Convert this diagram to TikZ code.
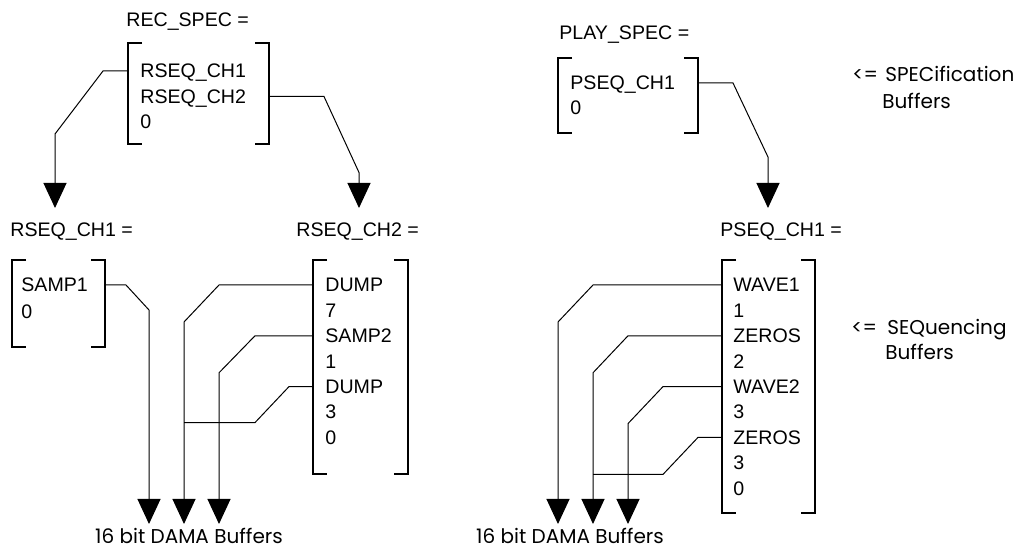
\documentclass[tikz,border=0pt]{standalone}
\usepackage{fontspec}
\setmainfont{Liberation Sans}
\newfontfamily\gothic{Poppins}
\usetikzlibrary{arrows.meta, fit}
\tikzset{
  bufname/.style={anchor=west, inner sep=0pt, font=\fontsize{9.8}{11}\selectfont,
                  text height=7pt, text depth=0pt},
  entry/.style={bufname},
  buf/.style={inner sep=0pt, outer sep=0pt},
  brline/.style={line width=1pt},
  link/.style={line width=0.5pt},
  ptr/.style={link, -{Triangle[length=12.5pt, width=11.5pt]}},
  note/.style={anchor=base west, inner sep=0pt,
               font=\gothic\fontsize{10}{13}\selectfont},
}
\newcommand{\brackets}[1]{%
  \draw[brline] ([xshift=7pt]#1.north west) -| (#1.south west) -- ++(7pt,0);
  \draw[brline] ([xshift=-7pt]#1.north east) -| (#1.south east) -- ++(-7pt,0);
}

\begin{document}
\begin{tikzpicture}[x=0.5pt, y=-0.5pt]
  \useasboundingbox (0,0) rectangle (1019,550);

  % =====================================================
  % SPECIFICATION BUFFERS
  % =====================================================

  \node[bufname] (recspec-t) at (126,20) {REC\_SPEC =};
  \node[buf, fit={(128,43) (269,144)}] (recspec) {};
  \foreach \txt [count=\i] in {RSEQ\_CH1, RSEQ\_CH2, 0}
    \node[entry] (rs-\i) at (140, {45.5+25.5*\i}) {\txt};

  \node[bufname] (playspec-t) at (559,33) {PLAY\_SPEC =};
  \node[buf, fit={(558,58) (698,133)}] (playspec) {};
  \foreach \txt [count=\i] in {PSEQ\_CH1, 0}
    \node[entry] (ps-\i) at (570, {58+25*\i}) {\txt};

  % =====================================================
  % SEQUENCING BUFFERS
  % =====================================================

  \node[bufname] (rch1-t) at (10,230) {RSEQ\_CH1 =};
  \node[buf, fit={(12,260) (105,347)}] (rch1) {};
  \foreach \txt [count=\i] in {SAMP1, 0}
    \node[entry] (ra-\i) at (21, {258+27*\i}) {\txt};

  \node[bufname] (rch2-t) at (296,230) {RSEQ\_CH2 =};
  \node[buf, fit={(313,260) (408,474)}] (rch2) {};
  \foreach \txt [count=\i] in {DUMP, 7, SAMP2, 1, DUMP, 3, 0}
    \node[entry] (rb-\i) at (325, {259.6+25.4*\i}) {\txt};

  \node[bufname] (pch1-t) at (720,230) {PSEQ\_CH1 =};
  \node[buf, fit={(722,260) (815,513)}] (pch1) {};
  \foreach \txt [count=\i] in {WAVE1, 1, ZEROS, 2, WAVE2, 3, ZEROS, 3, 0}
    \node[entry] (pb-\i) at (733, {259.6+25.4*\i}) {\txt};

  \foreach \b in {recspec, playspec, rch1, rch2, pch1}
    \brackets{\b};

  % =====================================================
  % NOTES
  % =====================================================

  \node[note] (specarr) at (852,82) {<=};
  \node[note] (specnote) at (885,82) {SPECification};
  \node[note] (specnote2) at (882,109) {Buffers};
  \node[note] (seqarr) at (851,335) {<=};
  \node[note] (seqnote) at (887,335) {SEQuencing};
  \node[note] (seqnote2) at (885,360) {Buffers};

  \node[note, anchor=base] (dama-r) at (189,544) {16 bit DAMA Buffers};
  \node[note, anchor=base] (dama-p) at (570,544) {16 bit DAMA Buffers};

  \coordinate (tip-rch1) at (55,208);
  \coordinate (tip-rch2) at (359,208);
  \coordinate (tip-pch1) at (768,208);
  \coordinate (dama-r1) at (149,524);
  \coordinate (dama-r2) at (184,524);
  \coordinate (dama-r3) at (219,524);
  \coordinate (dama-p1) at (558,524);
  \coordinate (dama-p2) at (593,524);
  \coordinate (dama-p3) at (628,524);

  % =====================================================
  % SPEC -> SEQ
  % =====================================================

  \draw[ptr]
    (recspec.west |- rs-1) -- ++(-25,0) -- ++(-48,63) -- (tip-rch1);

  \draw[ptr]
    (recspec.east |- rs-2) -- ++(55,0) -- ++(35,76) -- (tip-rch2);

  \draw[ptr]
    (playspec.east |- ps-1) -- ++(35,0) -- ++(35,74) -- (tip-pch1);

  % =====================================================
  % SEQ -> DAMA
  % =====================================================

  \draw[ptr]
    (rch1.east |- ra-1) -- ++(21,0) -- ++(23,25) -- (dama-r1);

  \draw[ptr]
    (rch2.west |- rb-1) -- ++(-94,0) -- ++(-35,37) -- (dama-r2);

  \draw[ptr]
    (rch2.west |- rb-3) -- ++(-58,0) -- ++(-36,37) -- (dama-r3);

  \draw[link]
    (rch2.west |- rb-5) -- ++(-24,0) -- ++(-34,36) -- ++(-71,0);

  \draw[ptr]
    (pch1.west |- pb-1) -- ++(-129,0) -- ++(-35,37) -- (dama-p1);

  \draw[ptr]
    (pch1.west |- pb-3) -- ++(-94,0) -- ++(-35,37) -- (dama-p2);

  \draw[ptr]
    (pch1.west |- pb-5) -- ++(-59,0) -- ++(-35,37) -- (dama-p3);

  \draw[link]
    (pch1.west |- pb-7) -- ++(-24,0) -- ++(-35,37) -- ++(-70,0);

\end{tikzpicture}
\end{document}
